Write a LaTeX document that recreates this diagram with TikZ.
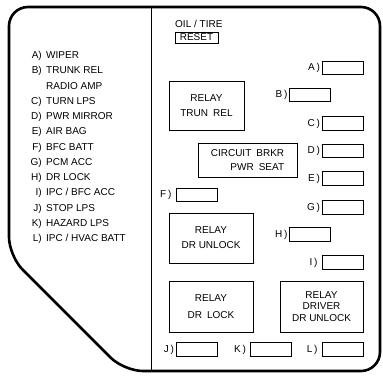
\documentclass[tikz,border=0pt]{standalone}
\usepackage{fontspec}
\setmainfont{Liberation Sans}
\usetikzlibrary{positioning}

\tikzset{
  fuse/.style={draw, rectangle, line width=0.9pt, minimum width=41pt, minimum height=13.5pt, inner sep=0pt},
  relay/.style={draw, rectangle, line width=0.9pt, align=center, inner sep=0pt, font=\fontsize{10}{15}\selectfont},
  slot/.style={inner sep=0pt, font=\fontsize{10}{12}\selectfont},
  key/.style={anchor=base east, inner sep=0pt},
  item/.style={anchor=base west, inner sep=0pt},
}

\begin{document}
\begin{tikzpicture}[x=1pt, y=-1pt, font=\fontsize{10}{12}\selectfont]
  \useasboundingbox (0,0) rectangle (383,376);
  % Panel outline
  \draw[line width=2.6pt, rounded corners=19pt] (150,7) -- (380,7) -- (380,371) -- (124,371) -- (9,256) -- (9,7) -- cycle;
  \draw[line width=0.9pt] (151,7) -- (151,371);

  % Fuse list
  \node[key] (kA) at (42,58.6) {A)};   \node[item] (tA) at (46,58.6) {WIPER};
  \node[key] (kB) at (42,73.9) {B)};   \node[item] (tB) at (46,73.9) {TRUNK REL};
  \node[item] (tB2) at (46,89.1) {RADIO AMP};
  \node[key] (kC) at (42,104.4) {C)};  \node[item] (tC) at (46,104.4) {TURN LPS};
  \node[key] (kD) at (42,119.6) {D)};  \node[item] (tD) at (46,119.6) {PWR MIRROR};
  \node[key] (kE) at (42,134.9) {E)};  \node[item] (tE) at (46,134.9) {AIR BAG};
  \node[key] (kF) at (42,150.1) {F)};  \node[item] (tF) at (46,150.1) {BFC BATT};
  \node[key] (kG) at (42,165.4) {G)};  \node[item] (tG) at (46,165.4) {PCM ACC};
  \node[key] (kH) at (42,180.6) {H)};  \node[item] (tH) at (46,180.6) {DR LOCK};
  \node[key] (kI) at (42,195.9) {I)};  \node[item] (tI) at (46,195.9) {IPC / BFC ACC};
  \node[key] (kJ) at (42,211.1) {J)};  \node[item] (tJ) at (46,211.1) {STOP LPS};
  \node[key] (kK) at (42,226.4) {K)};  \node[item] (tK) at (46,226.4) {HAZARD LPS};
  \node[key] (kL) at (42,241.6) {L)};  \node[item] (tL) at (46,241.6) {IPC / HVAC BATT};

  % Reset button
  \node[slot, anchor=base west] (oil) at (175,27.5) {OIL / TIRE};
  \node[draw, rectangle, line width=0.9pt, minimum width=43pt, minimum height=11pt, inner sep=0pt] (reset) at (196.5,37.5) {RESET};

  % Relays
  \node[relay, minimum width=75pt, minimum height=49pt] (trun) at (206.5,105.5) {RELAY\\TRUN\enspace REL};
  \node[relay, align=right, minimum width=99pt, minimum height=34pt, font=\fontsize{10}{14}\selectfont] (brkr) at (247.5,160) {CIRCUIT\enspace BRKR\\PWR\enspace SEAT};
  \node[relay, minimum width=84pt, minimum height=50pt] (unlock) at (211,238) {RELAY\\DR UNLOCK};
  \node[relay, minimum width=84pt, minimum height=51pt, font=\fontsize{10}{17}\selectfont] (lock) at (211,306.5) {RELAY\\DR\enspace LOCK};
  \node[relay, minimum width=83pt, minimum height=51pt, font=\fontsize{10}{11.5}\selectfont] (driver) at (321.5,306.5) {RELAY\\DRIVER\\DR UNLOCK};

  % Fuses
  \node[fuse] (fA) at (342.5,68) {};
  \node[slot, left=1.5pt of fA] (lA) {A\,)};
  \node[fuse] (fB) at (310,95) {};
  \node[slot, left=1.5pt of fB] (lB) {B\,)};
  \node[fuse] (fC) at (342.5,123.5) {};
  \node[slot, left=1.5pt of fC] (lC) {C\,)};
  \node[fuse] (fD) at (342.5,151) {};
  \node[slot, left=1.5pt of fD] (lD) {D\,)};
  \node[fuse] (fE) at (342.5,178.5) {};
  \node[slot, left=1.5pt of fE] (lE) {E\,)};
  \node[fuse] (fF) at (196.5,195) {};
  \node[slot, left=4pt of fF] (lF) {F\,)};
  \node[fuse] (fG) at (342.5,207.5) {};
  \node[slot, left=1.5pt of fG] (lG) {G\,)};
  \node[fuse] (fH) at (310,234.5) {};
  \node[slot, left=1.5pt of fH] (lH) {H\,)};
  \node[fuse] (fI) at (342.5,262.5) {};
  \node[slot, left=4pt of fI] (lI) {I\,)};
  \node[fuse] (fJ) at (196.5,349.5) {};
  \node[slot, left=1.5pt of fJ] (lJ) {J\,)};
  \node[fuse] (fK) at (271,349.5) {};
  \node[slot, left=4pt of fK] (lK) {K\,)};
  \node[fuse] (fL) at (342.5,349.5) {};
  \node[slot, left=4pt of fL] (lL) {L\,)};
\end{tikzpicture}
\end{document}
